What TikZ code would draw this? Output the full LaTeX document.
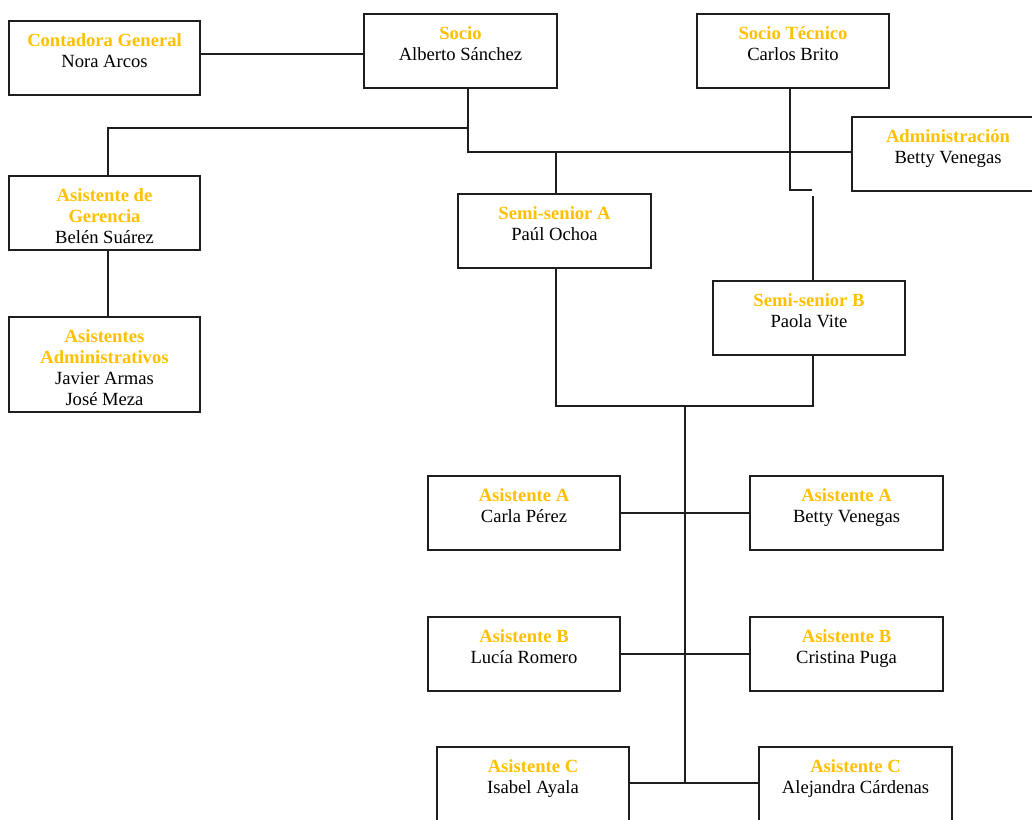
\documentclass[tikz,border=0pt]{standalone}
\usepackage{fontspec}
\setmainfont{Liberation Serif}
\usepackage{xcolor}
\definecolor{rolegold}{RGB}{255,192,0}
\definecolor{inkline}{RGB}{30,30,30}

% box contents: width, height, role (gold, bold), person
\newcommand\orgtext[4]{%
  \parbox[c][#2pt][t]{#1pt}{\centering\fontsize{18.6}{21}\selectfont
    \rule{0pt}{25pt}\textcolor{rolegold}{\bfseries #3}\\#4}}

\tikzset{
  orgbox/.style={draw=inkline, line width=2pt, inner sep=0pt, fill=white},
  link/.style={draw=inkline, line width=2pt}
}

\begin{document}
\begin{tikzpicture}[x=1pt, y=-1pt]
\useasboundingbox (0,0) rectangle (1032,819);

% top level
\node[orgbox] (cont)  at (104.5,58)  {\orgtext{191}{74}{Contadora General}{Nora Arcos}};
\node[orgbox] (socio) at (460.5,51)  {\orgtext{193}{74}{Socio}{Alberto Sánchez}};
\node[orgbox] (stec)  at (793,51)    {\orgtext{192}{74}{Socio Técnico}{Carlos Brito}};
\node[orgbox] (admin) at (948,154)   {\orgtext{192}{74}{Administración}{Betty Venegas}};

% left branch
\node[orgbox] (ager)  at (104.5,213) {\orgtext{191}{74}{Asistente de\\Gerencia}{Belén Suárez}};
\node[orgbox] (aadm)  at (104.5,364.5) {\orgtext{191}{95}{Asistentes\\Administrativos}{Javier Armas\\José Meza}};

% semi-seniors
\node[orgbox] (ssa)   at (554.5,231) {\orgtext{193}{74}{Semi-senior A}{Paúl Ochoa}};
\node[orgbox] (ssb)   at (809,318)   {\orgtext{192}{74}{Semi-senior B}{Paola Vite}};

% assistants
\node[orgbox] (a1l) at (524,513)   {\orgtext{192}{74}{Asistente A}{Carla Pérez}};
\node[orgbox] (a1r) at (846.5,513) {\orgtext{193}{74}{Asistente A}{Betty Venegas}};
\node[orgbox] (b1l) at (524,654)   {\orgtext{192}{74}{Asistente B}{Lucía Romero}};
\node[orgbox] (b1r) at (846.5,654) {\orgtext{193}{74}{Asistente B}{Cristina Puga}};
\node[orgbox] (c1l) at (533,784)   {\orgtext{192}{74}{Asistente C}{Isabel Ayala}};
\node[orgbox] (c1r) at (855.5,784) {\orgtext{193}{74}{Asistente C}{Alejandra Cárdenas}};

% junction points and connector columns
\coordinate (cs)   at (0,54);
\coordinate (gx)   at (108,0);
\coordinate (sx)   at (556,0);
\coordinate (jg)   at (468,128);
\coordinate (ja)   at (468,152);
\coordinate (tb)   at (812,190);
\coordinate (tg)   at (813,196);
\coordinate (hub)  at (685,406);
\coordinate (tail) at (685,783);

% connectors
\draw[link] (cont.east |- cs) -- (socio.west |- cs);
\draw[link] ([xshift=7.5pt]socio.south) -- (ja) -- (ja -| admin.west);
\draw[link] (jg) -| (gx |- ager.north);
\draw[link] (gx |- ager.south) -- (gx |- aadm.north);
\draw[link] (ja -| sx) -- (sx |- ssa.north);
\draw[link] ([xshift=-3pt]stec.south) |- (tb);
\draw[link] (tg) -- (tg |- ssb.north);
\draw[link] (sx |- ssa.south) |- (hub) -| (tg |- ssb.south);
\draw[link] (hub) -- (tail);
\draw[link] (a1l) -- (a1r);
\draw[link] (b1l) -- (b1r);
\draw[link] (c1l.east |- tail) -- (c1r.west |- tail);
\end{tikzpicture}
\end{document}
